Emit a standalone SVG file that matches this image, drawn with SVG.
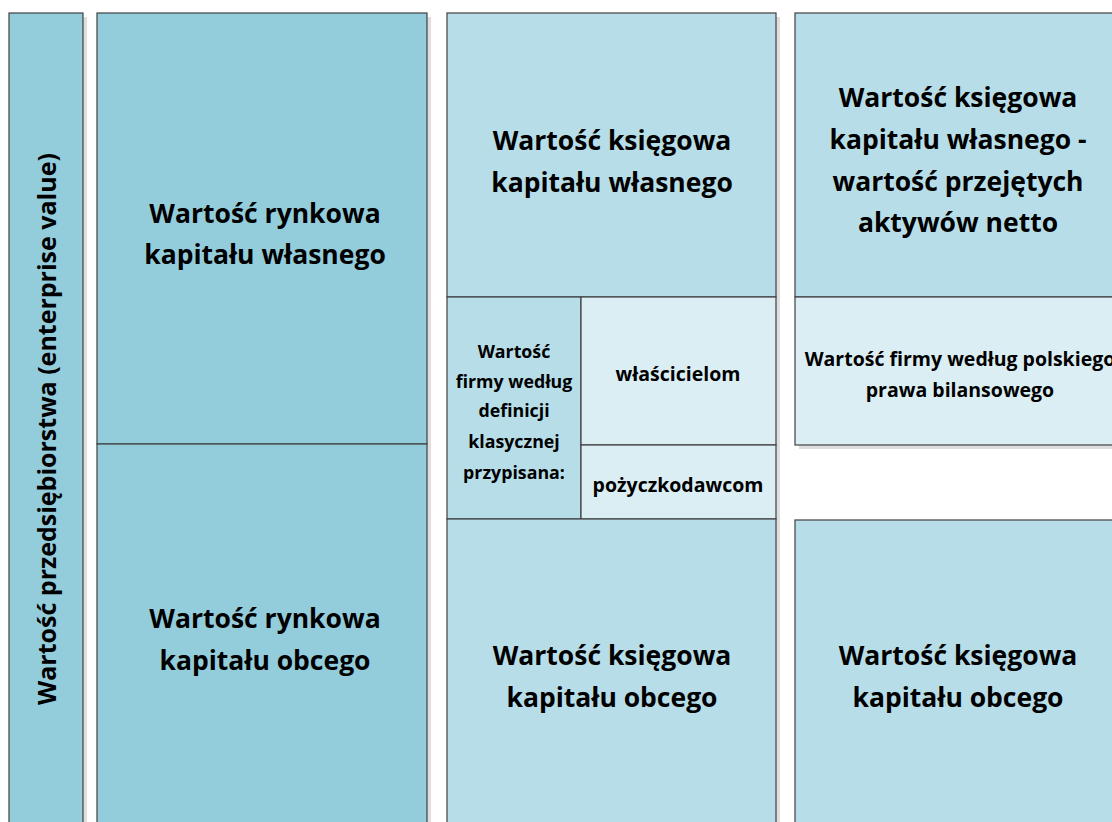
<svg xmlns="http://www.w3.org/2000/svg" width="1112" height="822" viewBox="0 0 1112 822">
<style>
.sh{fill:#dedede}
.d{fill:#93CDDC;stroke:#404040;stroke-width:1.2}
.m{fill:#B7DEE8;stroke:#404040;stroke-width:1.2}
.l{fill:#DBEEF4;stroke:#404040;stroke-width:1.2}
text{font-family:"Open Sans","Liberation Sans",sans-serif;font-weight:bold;fill:#000;text-anchor:middle;dominant-baseline:central}
.b{font-size:26.5px}
.v{font-size:25px}
.s{font-size:19.5px}
.t{font-size:17.8px}
</style>
<rect width="1112" height="822" fill="#fff"/>
<g id="shadows">
<rect class="sh" x="13" y="17" width="74" height="820"/>
<rect class="sh" x="101" y="17" width="330" height="820"/>
<rect class="sh" x="451" y="17" width="329" height="820"/>
<rect class="sh" x="799" y="17" width="330" height="432"/>
<rect class="sh" x="799" y="524" width="330" height="320"/>
</g>
<g id="n-ev">
<rect class="d" x="9" y="13" width="74" height="830"/>
<text class="v" transform="translate(46,429) rotate(-90)">Wartość przedsiębiorstwa (enterprise value)</text>
</g>
<g id="n-rynkowa-wlasny">
<rect class="d" x="97" y="13" width="330" height="431"/>
<text class="b" x="265" y="213">Wartość rynkowa</text>
<text class="b" x="265" y="254">kapitału własnego</text>
</g>
<g id="n-rynkowa-obcy">
<rect class="d" x="97" y="444" width="330" height="400"/>
<text class="b" x="265" y="618">Wartość rynkowa</text>
<text class="b" x="265" y="660">kapitału obcego</text>
</g>
<g id="n-ksiegowa-wlasny">
<rect class="m" x="447" y="13" width="329" height="284"/>
<text class="b" x="612" y="140">Wartość księgowa</text>
<text class="b" x="612" y="182">kapitału własnego</text>
</g>
<g id="n-definicja">
<rect class="m" x="447" y="297" width="134" height="222"/>
<text class="t" x="514" y="351">Wartość</text>
<text class="t" x="514" y="381">firmy według</text>
<text class="t" x="514" y="410">definicji</text>
<text class="t" x="514" y="441">klasycznej</text>
<text class="t" x="514" y="472">przypisana:</text>
</g>
<g id="n-wlascicielom">
<rect class="l" x="581" y="297" width="195" height="148"/>
<text class="s" x="678" y="373">właścicielom</text>
</g>
<g id="n-pozyczkodawcom">
<rect class="l" x="581" y="445" width="195" height="74"/>
<text class="s" x="678" y="484">pożyczkodawcom</text>
</g>
<g id="n-ksiegowa-obcy">
<rect class="m" x="447" y="519" width="329" height="325"/>
<text class="b" x="612" y="655">Wartość księgowa</text>
<text class="b" x="612" y="697">kapitału obcego</text>
</g>
<g id="n-wlasny-minus">
<rect class="m" x="795" y="13" width="330" height="284"/>
<text class="b" x="958" y="97">Wartość księgowa</text>
<text class="b" x="958" y="139">kapitału własnego -</text>
<text class="b" x="958" y="181">wartość przejętych</text>
<text class="b" x="958" y="222">aktywów netto</text>
</g>
<g id="n-polskie-prawo">
<rect class="l" x="795" y="297" width="330" height="148"/>
<text class="s" x="960" y="358">Wartość firmy według polskiego</text>
<text class="s" x="960" y="389">prawa bilansowego</text>
</g>
<g id="n-obcy-4">
<rect class="m" x="795" y="520" width="330" height="324"/>
<text class="b" x="958" y="655">Wartość księgowa</text>
<text class="b" x="958" y="697">kapitału obcego</text>
</g>
<g id="connectors"/>
</svg>
